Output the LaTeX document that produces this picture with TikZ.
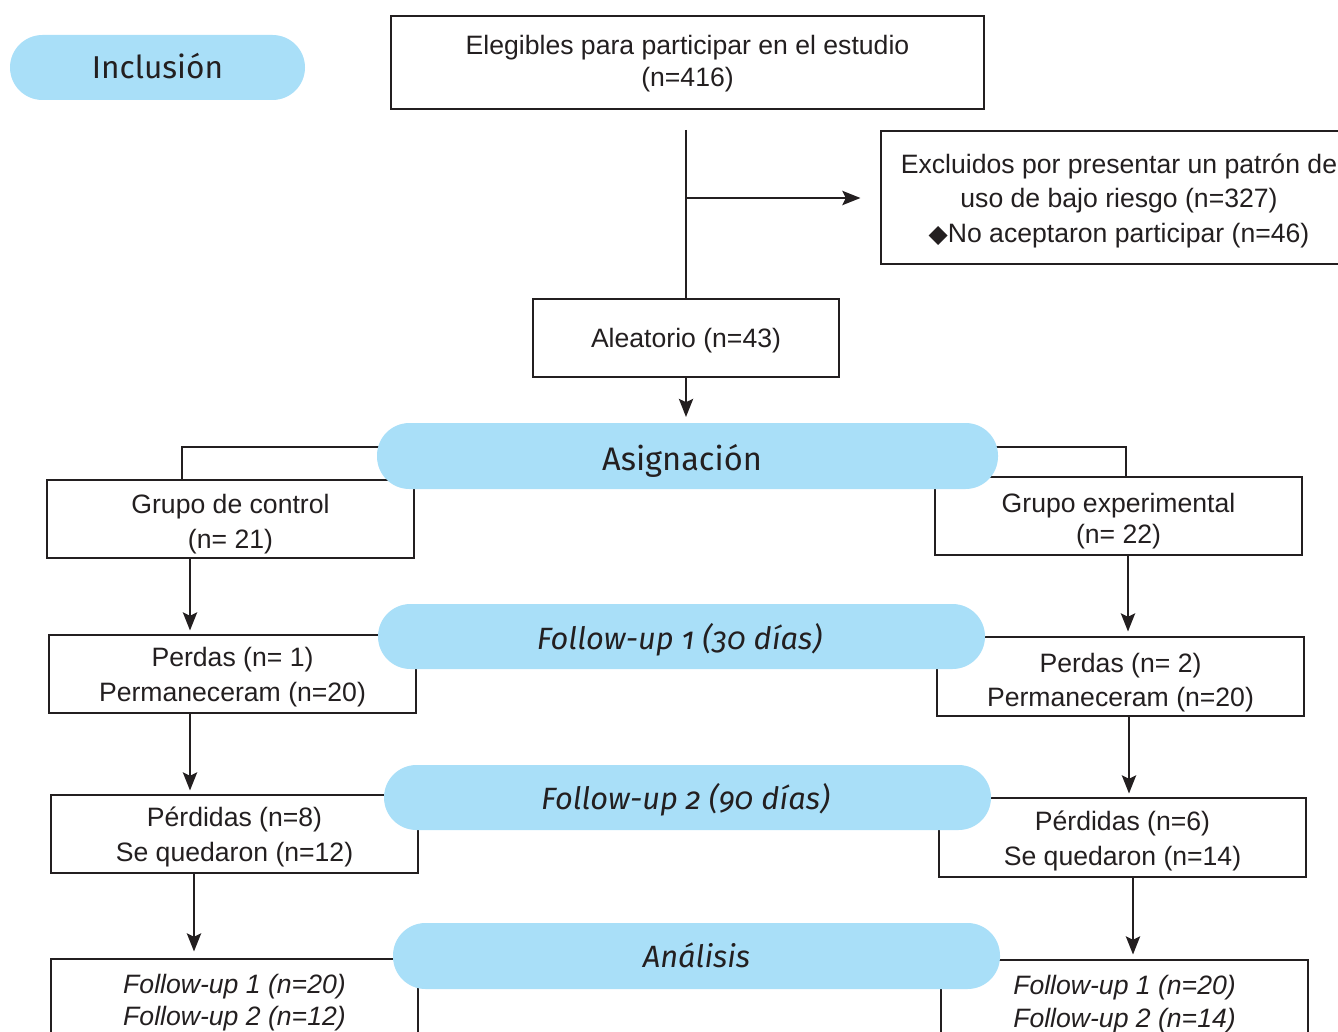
\documentclass[tikz,border=0pt]{standalone}
\usepackage{fontspec}
\setmainfont{Liberation Sans}
\newfontfamily\pillfont[Numbers=OldStyle]{Fira Sans}
\newfontfamily\symfont{DejaVu Sans}
\usetikzlibrary{arrows.meta}
\definecolor{pillblue}{HTML}{A9DFF8}
\definecolor{ink}{HTML}{231F20}
\newcommand{\tstrut}[1]{\rule{0pt}{#1}}
\tikzset{
  box/.style={draw=ink, line width=1.45pt, fill=white, align=center, inner sep=0pt,
    minimum width=183.5pt, minimum height=39pt, text=ink,
    font=\fontsize{13.3}{17.4}\selectfont},
  pill/.style={fill=pillblue, rounded corners=16.25pt, inner sep=0pt,
    minimum width=303.5pt, minimum height=32.5pt},
  pilltext/.style={inner sep=0pt, text=ink, font=\pillfont\fontsize{15.4}{20}\selectfont},
  conn/.style={draw=ink, line width=1.45pt},
  arr/.style={conn, -{Stealth[length=9pt,width=7pt,inset=1.6pt]}},
}
\begin{document}
\begin{tikzpicture}[x=0.5pt,y=-0.5pt]
\useasboundingbox (0,0) rectangle (1338,1032);
\clip (0,0) rectangle (1338,1032);
% boxes
\node[box, minimum width=296.5pt, minimum height=46.5pt] (eleg) at (687.5,62.5)
  {\tstrut{10.7pt}Elegibles para participar en el estudio\\[-1.2pt](n=416)};
\node[box, minimum width=238pt, minimum height=66.5pt] (excl) at (1119,197.5)
  {\tstrut{13.2pt}Excluidos por presentar un patrón de\\uso de bajo riesgo (n=327)\\{\symfont\fontsize{12.5}{12}\selectfont\raisebox{0.3pt}{◆}}No aceptaron participar (n=46)};
\node[box, minimum width=153pt, minimum height=39pt] (alea) at (686,338) {\tstrut{12.7pt}Aleatorio (n=43)};
\node[box] (gc) at (230.5,519) {\tstrut{14.7pt}Grupo de control\\(n= 21)};
\node[box] (ge) at (1118.5,516) {\tstrut{14.7pt}Grupo experimental\\[-1.5pt](n= 22)};
\node[box] (p1L) at (232.5,674) {\tstrut{12.7pt}Perdas (n= 1)\\Permaneceram (n=20)};
\node[box, minimum height=39.5pt] (p1R) at (1120.5,676.5) {\tstrut{15.7pt}Perdas (n= 2)\\Permaneceram (n=20)};
\node[box] (p2L) at (234.5,834) {\tstrut{12.7pt}Pérdidas (n=8)\\Se quedaron (n=12)};
\node[box, minimum height=39.5pt] (p2R) at (1122.5,837.5) {\tstrut{13.2pt}Pérdidas (n=6)\\Se quedaron (n=14)};
\node[box, minimum height=41pt] (anL) at (234.5,1000) {\tstrut{12.2pt}\itshape Follow-up 1 (n=20)\\[-1pt]\itshape Follow-up 2 (n=12)};
\node[box, minimum height=41.5pt] (anR) at (1124.5,1001.5) {\tstrut{12.2pt}\itshape Follow-up 1 (n=20)\\[-1pt]\itshape Follow-up 2 (n=14)};
% connectors
\coordinate (split) at (686,130);
\coordinate (branch) at (686,198);
\draw[conn] (split) -- (alea.north);
\draw[arr, shorten >=9.5pt] (branch) -- (excl.west |- branch);
\draw[arr, shorten >=3pt] (alea.south) -- (686,423);
\coordinate (bl) at (182,447);
\coordinate (br) at (1126,447);
\draw[conn] (420,447) -- (bl) -- (bl |- gc.north);
\draw[conn] (950,447) -- (br) -- (br |- ge.north);
\draw[arr, shorten >=1.5pt] (190,0 |- gc.south) -- (190,0 |- p1L.north);
\draw[arr, shorten >=1.5pt] (190,0 |- p1L.south) -- (190,0 |- p2L.north);
\draw[arr, shorten >=3pt] (194,0 |- p2L.south) -- (194,0 |- anL.north);
\draw[arr, shorten >=2pt] (1128,0 |- ge.south) -- (1128,0 |- p1R.north);
\draw[arr, shorten >=1.5pt] (1129,0 |- p1R.south) -- (1129,0 |- p2R.north);
\draw[arr, shorten >=2pt] (1133,0 |- p2R.south) -- (1133,0 |- anR.north);
% pills
\node[pill, minimum width=147.5pt,
  label={[pilltext, font=\pillfont\fontsize{15.8}{20}\selectfont, yshift=0.5pt]center:Inclusión}] (incl) at (157.5,67.5) {};
\node[pill, minimum width=310.5pt, minimum height=33pt,
  label={[pilltext, font=\pillfont\fontsize{16.3}{20}\selectfont, xshift=-2.75pt, yshift=-2.5pt]center:Asignación}] (asig) at (687.5,456) {};
\node[pill, label={[pilltext, xshift=-1pt, yshift=-1.5pt]center:\itshape Follow-up 1 (30 días)}] (fu1) at (681.5,636.5) {};
\node[pill, label={[pilltext, xshift=-1pt, yshift=-1pt]center:\itshape Follow-up 2 (90 días)}] (fu2) at (687.5,797.5) {};
\node[pill, minimum height=33pt, label={[pilltext, yshift=0.5pt]center:\itshape Análisis}] (anal) at (696.5,956) {};
\end{tikzpicture}
\end{document}
